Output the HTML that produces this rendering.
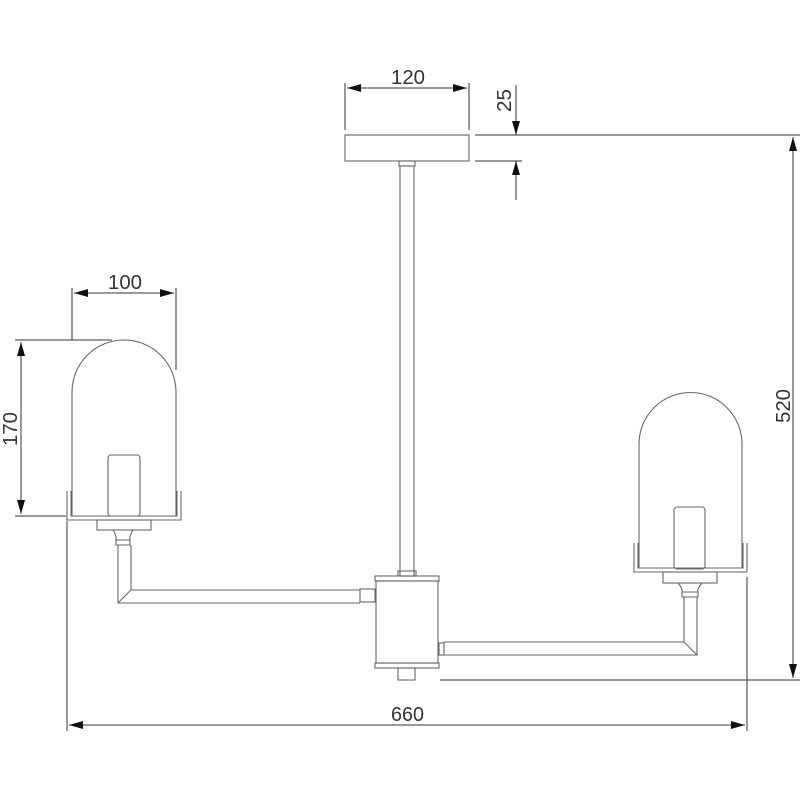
<!DOCTYPE html>
<html><head><meta charset="utf-8"><style>html,body{margin:0;padding:0;background:#fff}svg{display:block}</style></head>
<body>
<svg width="800" height="800" viewBox="0 0 800 800" xmlns="http://www.w3.org/2000/svg">
<defs>
<marker id="a" viewBox="0 0 14 8" refX="14" refY="4" markerWidth="14" markerHeight="8" markerUnits="userSpaceOnUse" orient="auto-start-reverse"><path d="M0,0 L14,4 L0,8 z" fill="#111"/></marker>
</defs>
<g fill="none" stroke="#666" stroke-width="1.1">
<rect x="345" y="135" width="124" height="26"/>
<rect x="399" y="161" width="16" height="5"/>
<rect x="400" y="166" width="14" height="410"/>
<rect x="398" y="571" width="18" height="5"/>
<rect x="375" y="576" width="64" height="5"/>
<rect x="376" y="581" width="62" height="82"/>
<rect x="375" y="663" width="64" height="5"/>
<rect x="398" y="668" width="17" height="12"/>
<rect x="360" y="589" width="15" height="13"/>
<path d="M360,590 H131 V545 M118,545 V603 H360 M118,603 L131,590"/>
<rect x="439" y="643" width="5" height="12"/>
<path d="M444,642 H684 V597 M697,597 V655 H444 M684,642 L697,655"/>
<path d="M72,516 V392 A52,52 0 0 1 176,392 V516"/>
<path d="M67,491 V520 H181 V491 M71,491 V516 H177 V491"/>
<rect x="108" y="455" width="32" height="61" rx="3"/>
<rect x="97" y="520" width="54" height="10"/>
<path d="M113,530 Q117,536 116,540 H130 Q129,536 133,530 M116,540 V545 H130 V540"/>
<path d="M639,568 V444 A51.5,51.5 0 0 1 742,444 V568"/>
<path d="M634,543 V572 H747 V543 M638,543 V568 H743 V543"/>
<rect x="674" y="507" width="31" height="62" rx="3"/>
<rect x="663" y="572" width="54" height="11"/>
<path d="M678,583 Q683,589 682,592 H698 Q697,589 702,583 M682,592 V597 H698 V592"/>
</g>
<g stroke="#333" stroke-width="1" fill="none">
<path d="M345,130 V83 M469,130 V83"/>
<line x1="347" y1="88" x2="467" y2="88" marker-start="url(#a)" marker-end="url(#a)"/>
<path d="M475,135 H800 M475,161 H522"/>
<line x1="516" y1="85" x2="516" y2="135" marker-end="url(#a)"/>
<line x1="516" y1="200" x2="516" y2="161" marker-end="url(#a)"/>
<line x1="793" y1="137" x2="793" y2="678" marker-start="url(#a)" marker-end="url(#a)"/>
<path d="M440,680 H800"/>
<path d="M67,521 V731 M747,577 V731"/>
<line x1="69" y1="725" x2="745" y2="725" marker-start="url(#a)" marker-end="url(#a)"/>
<path d="M72,288 V340 M176,288 V370"/>
<line x1="74" y1="293" x2="174" y2="293" marker-start="url(#a)" marker-end="url(#a)"/>
<path d="M15,340 H112 M15,516 H66"/>
<line x1="21" y1="342" x2="21" y2="514" marker-start="url(#a)" marker-end="url(#a)"/>
</g>
<g font-family="Liberation Sans, sans-serif" font-size="20" fill="#333">
<text x="391" y="84" textLength="34" lengthAdjust="spacingAndGlyphs">120</text>
<text x="108" y="289" textLength="34" lengthAdjust="spacingAndGlyphs">100</text>
<text x="391" y="721" textLength="33" lengthAdjust="spacingAndGlyphs">660</text>
<text transform="translate(511,112) rotate(-90)" textLength="23" lengthAdjust="spacingAndGlyphs">25</text>
<text transform="translate(790,423) rotate(-90)" textLength="34" lengthAdjust="spacingAndGlyphs">520</text>
<text transform="translate(17,446) rotate(-90)" textLength="34" lengthAdjust="spacingAndGlyphs">170</text>
</g>
</svg>
</body></html>
